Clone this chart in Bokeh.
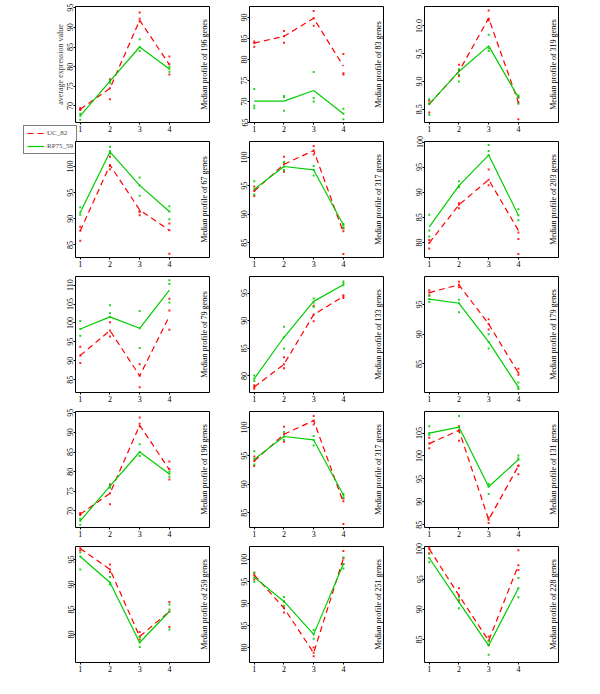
import math
from bokeh.plotting import figure
from bokeh.layouts import row, column
from bokeh.models import Range1d, FixedTicker, Label, Legend, LegendItem
from bokeh.embed import file_html
from bokeh.resources import INLINE

# ---------------- data ----------------
x_times = [1, 2, 3, 4]
series_names = ["UC_82", "RP75_59"]
genes = [196, 83, 319, 67, 317, 203, 79, 133, 179, 196, 317, 131, 259, 251, 228]

red_median = [
    [69.2, 74.5, 91.8, 80.5],
    [83.9, 85.5, 89.8, 78.4],
    [8.59, 9.18, 10.14, 8.62],
    [87.7, 100.3, 91.7, 87.8],
    [94.1, 98.8, 101.2, 86.8],
    [79.9, 87.5, 92.5, 82.4],
    [91.4, 98.0, 86.0, 101.8],
    [78.0, 82.1, 91.1, 94.4],
    [97.0, 98.3, 91.7, 83.5],
    [69.2, 74.5, 91.8, 80.5],
    [94.1, 98.8, 101.2, 86.8],
    [102.7, 105.6, 86.1, 97.8],
    [97.2, 93.0, 79.6, 84.6],
    [96.5, 89.0, 78.8, 100.3],
    [100.0, 92.3, 84.8, 97.3],
]
green_median = [
    [67.5, 76.3, 85.0, 79.4],
    [70.1, 70.1, 72.6, 67.1],
    [8.59, 9.18, 9.64, 8.71],
    [91.2, 102.8, 96.4, 91.4],
    [94.4, 98.4, 97.8, 88.1],
    [83.1, 91.3, 97.4, 85.4],
    [98.4, 101.6, 98.6, 108.7],
    [79.5, 87.0, 93.5, 96.5],
    [95.9, 95.2, 88.7, 81.1],
    [67.5, 76.3, 85.0, 79.4],
    [94.4, 98.4, 97.8, 88.1],
    [105.0, 106.3, 93.3, 99.2],
    [95.6, 90.4, 78.4, 84.6],
    [96.0, 90.5, 83.0, 99.0],
    [98.5, 91.2, 84.0, 93.5],
]
red_points = [
    [[69.5, 69.0, 69.2], [71.7, 76.8, 74.5], [93.8, 92.2, 91.5], [82.6, 80.6, 78.0]],
    [[84.3, 83.0, 83.9], [86.8, 84.0, 85.5], [91.5, 88.0, 89.8], [81.3, 76.7, 76.4]],
    [[8.65, 8.44, 8.60], [9.30, 9.20, 9.10], [10.28, 10.13, 10.10], [8.72, 8.32, 8.62]],
    [[88.5, 85.8, 87.7], [101.9, 100.3, 99.5], [91.3, 90.7, 91.5], [89.1, 83.3, 87.8]],
    [[94.9, 93.2, 94.1], [100.1, 97.5, 98.8], [102.0, 101.2, 100.5], [87.5, 87.0, 83.0]],
    [[80.5, 78.8, 79.9], [87.8, 86.8, 87.5], [94.5, 91.4, 92.5], [82.0, 80.7, 77.7]],
    [[93.7, 89.4, 91.4], [100.2, 96.4, 98.0], [89.1, 86.0, 83.0], [106.4, 103.3, 98.2]],
    [[78.3, 77.7, 78.0], [83.4, 81.4, 82.1], [92.7, 89.9, 91.1], [94.6, 94.1, 94.4]],
    [[97.4, 96.5, 97.0], [98.8, 97.9, 98.3], [92.5, 90.8, 91.7], [84.2, 83.2, 83.5]],
    [[69.5, 69.0, 69.2], [71.7, 76.8, 74.5], [93.8, 92.2, 91.5], [82.6, 80.6, 78.0]],
    [[94.9, 93.2, 94.1], [100.1, 97.5, 98.8], [102.0, 101.2, 100.5], [87.5, 87.0, 83.0]],
    [[104.0, 102.7, 101.7], [106.5, 105.6, 103.3], [85.4, 86.1, 86.6], [97.9, 96.0, 97.8]],
    [[97.6, 96.8, 97.2], [94.0, 92.5, 93.0], [80.5, 79.0, 79.6], [86.5, 84.6, 81.5]],
    [[97.0, 95.5, 96.5], [90.5, 88.0, 89.0], [80.0, 78.0, 78.8], [102.0, 99.0, 100.3]],
    [[100.2, 99.3, 100.0], [93.5, 91.5, 92.3], [85.5, 84.2, 84.8], [99.8, 96.5, 97.3]],
]
green_points = [
    [[66.5, 67.5, 68.0], [76.5, 75.9, 76.3], [87.0, 84.0, 85.0], [78.7, 79.5, 80.0]],
    [[73.0, 69.0, 68.4], [71.3, 71.0, 67.8], [77.0, 70.8, 70.0], [68.3, 65.8, 67.1]],
    [[8.68, 8.40, 8.60], [9.22, 9.00, 9.12], [9.84, 9.55, 9.60], [8.75, 8.60, 8.70]],
    [[92.2, 90.8, 91.2], [103.8, 102.5, 103.0], [97.9, 94.4, 96.4], [92.4, 89.9, 91.4]],
    [[95.8, 94.4, 93.5], [99.2, 97.8, 98.4], [98.5, 96.8, 97.8], [88.3, 87.6, 88.0]],
    [[85.5, 82.4, 81.2], [92.2, 91.0, 91.3], [99.4, 98.2, 97.4], [86.6, 84.4, 85.4]],
    [[100.5, 96.6, 98.4], [104.7, 102.6, 101.6], [103.2, 93.4, 98.6], [111.3, 110.3, 105.4]],
    [[80.1, 79.1, 79.5], [88.9, 84.9, 87.0], [94.0, 93.3, 92.5], [97.1, 96.4, 96.8]],
    [[96.5, 95.9, 95.4], [95.8, 93.7, 95.2], [90.0, 87.6, 88.7], [81.9, 80.8, 81.1]],
    [[66.5, 67.5, 68.0], [76.5, 75.9, 76.3], [87.0, 84.0, 85.0], [78.7, 79.5, 80.0]],
    [[95.8, 94.4, 93.5], [99.2, 97.8, 98.4], [98.5, 96.8, 97.8], [88.3, 87.6, 88.0]],
    [[106.5, 104.6, 105.0], [108.7, 105.3, 106.3], [93.9, 91.7, 93.3], [100.1, 99.5, 99.2]],
    [[96.4, 93.0, 95.6], [91.5, 90.0, 90.4], [79.5, 77.5, 78.4], [86.0, 85.0, 81.0]],
    [[97.0, 95.0, 96.0], [91.5, 89.5, 90.5], [84.0, 82.0, 83.0], [100.5, 98.0, 99.0]],
    [[99.2, 97.8, 98.5], [92.0, 90.2, 91.2], [84.8, 82.5, 84.0], [95.2, 92.0, 93.5]],
]
y_ticks = [
    [70, 75, 80, 85, 90, 95],
    [65, 70, 75, 80, 85, 90],
    [8.5, 9.0, 9.5, 10.0],
    [85, 90, 95, 100],
    [85, 90, 95, 100],
    [80, 85, 90, 95, 100],
    [85, 90, 95, 100, 105, 110],
    [80, 85, 90, 95],
    [85, 90, 95],
    [70, 75, 80, 85, 90, 95],
    [85, 90, 95, 100],
    [85, 90, 95, 100, 105],
    [80, 85, 90, 95],
    [80, 85, 90, 95, 100],
    [85, 90, 95, 100],
]
y_tick_labels = [[("%.1f" % t) if isinstance(t, float) else str(t) for t in tk] for tk in y_ticks]
y_limits = [
    (65.8, 95.3), (65.0, 92.6), (8.26, 10.35),
    (82.6, 104.8), (82.4, 102.8), (77.0, 100.1),
    (81.6, 112.3), (77.0, 98.0), (80.2, 99.7),
    (65.8, 95.3), (82.4, 102.8), (84.4, 109.7),
    (74.4, 97.6), (76.6, 103.0), (81.2, 100.4),
]
x_limits = (0.84, 5.35)

# ---------------- layout / style ----------------
RED = "#ff0000"
GREEN = "#00cd00"
FONT = "Liberation Serif"

col_border_left = [75, 35, 36]
col_border_right = [5, 5, 4]
frame_w = 134
frame_h = 116
row_top = {0: [6, 6, 6, 6, 6], 1: [6, 6, 6, 6, 6], 2: [6, 6, 6, 6, 6]}
row_bottom = {0: [13, 13, 13, 13, 16], 1: [13, 13, 13, 13, 16], 2: [13, 13, 13, 13, 16]}


def make_panel(i, r, c):
    bl, br = col_border_left[c], col_border_right[c]
    bt, bb = row_top[c][r], row_bottom[c][r]
    p = figure(width=bl + frame_w + br, height=bt + frame_h + bb,
               output_backend="svg", toolbar_location=None,
               x_range=Range1d(*x_limits), y_range=Range1d(*y_limits[i]),
               min_border_left=bl, min_border_right=br,
               min_border_top=bt, min_border_bottom=bb)
    p.xgrid.visible = False
    p.ygrid.visible = False
    p.outline_line_color = "black"
    p.outline_line_width = 1
    p.outline_line_alpha = 1
    p.background_fill_color = "white"
    p.border_fill_alpha = 0
    p.xaxis.ticker = FixedTicker(ticks=x_times)
    p.yaxis.ticker = FixedTicker(ticks=y_ticks[i])
    p.yaxis.major_label_overrides = {t: s for t, s in zip(y_ticks[i], y_tick_labels[i])}
    for ax in (p.xaxis[0], p.yaxis[0]):
        ax.axis_line_color = None
        ax.major_tick_out = 2
        ax.major_tick_in = 0
        ax.minor_tick_out = 0
        ax.minor_tick_in = 0
        ax.major_tick_line_color = "black"
        ax.major_label_text_font = FONT
        ax.major_label_text_font_size = "8px"
        ax.major_label_text_color = "black"
        ax.major_label_standoff = 1
    p.yaxis.major_label_standoff = 0
    p.yaxis.major_label_orientation = "vertical"

    rx, ry, gx, gy = [], [], [], []
    for t, vals in zip(x_times, red_points[i]):
        rx += [t] * len(vals)
        ry += vals
    for t, vals in zip(x_times, green_points[i]):
        gx += [t] * len(vals)
        gy += vals
    p.scatter(rx, ry, marker="square", size=2, fill_color=RED, line_color=None, fill_alpha=0.85)
    p.scatter(gx, gy, marker="square", size=2, fill_color=GREEN, line_color=None, fill_alpha=0.85)

    p.line(x_times, red_median[i], line_color=RED, line_width=1.2, line_dash="6 4")
    p.line(x_times, green_median[i], line_color=GREEN, line_width=1.2)

    lo, hi = y_limits[i]
    p.add_layout(Label(x=5.18, y=(lo + hi) / 2, text="Median profile of %d genes" % genes[i],
                       angle=math.pi / 2, text_align="center", text_baseline="middle",
                       text_font=FONT, text_font_size="8px", text_color="black"))

    if i == 0:
        p.yaxis.axis_label = "average expression value"
        p.yaxis.axis_label_text_font = FONT
        p.yaxis.axis_label_text_font_size = "8px"
        p.yaxis.axis_label_text_font_style = "normal"
        p.yaxis.axis_label_standoff = 0
    return p


LEG_W = 64
LEG_H = 32
LEG_LEFT = 22
LEG_TOP = 124


def make_legend_box():
    lf = figure(width=LEG_W, height=LEG_H, output_backend="svg", toolbar_location=None,
                x_range=Range1d(0, 1), y_range=Range1d(0, 1),
                x_axis_location=None, y_axis_location=None,
                min_border_left=0, min_border_right=0, min_border_top=0, min_border_bottom=0,
                margin=(LEG_TOP, -(LEG_W + LEG_LEFT), 0, LEG_LEFT))
    lf.xgrid.visible = False
    lf.ygrid.visible = False
    lf.outline_line_color = None
    lf.background_fill_alpha = 0
    lf.border_fill_alpha = 0
    lr = lf.line(x_times, red_median[0], line_color=RED, line_width=1.2, line_dash="6 4", visible=False)
    lg = lf.line(x_times, green_median[0], line_color=GREEN, line_width=1.2, visible=False)
    legend = Legend(items=[LegendItem(label=series_names[0], renderers=[lr]),
                           LegendItem(label=series_names[1], renderers=[lg])],
                    location="top_left")
    legend.border_line_color = "black"
    legend.border_line_width = 1
    legend.background_fill_color = "white"
    legend.background_fill_alpha = 1
    legend.padding = 3
    legend.spacing = 5
    legend.margin = 1
    legend.label_height = 8
    legend.glyph_height = 8
    legend.glyph_width = 17
    legend.label_standoff = 3
    legend.label_text_font = FONT
    legend.label_text_font_size = "7px"
    legend.label_text_baseline = "middle"
    lf.add_layout(legend, "center")
    return lf


panels = [make_panel(i, i // 3, i % 3) for i in range(15)]
col1 = column(*[panels[r * 3 + 0] for r in range(5)], spacing=0)
col2 = column(*[panels[r * 3 + 1] for r in range(5)], spacing=0)
col3 = column(*[panels[r * 3 + 2] for r in range(5)], spacing=0)
layout = row(make_legend_box(), col1, col2, col3, spacing=0)

open("out.html", "w").write(file_html(layout, INLINE))
